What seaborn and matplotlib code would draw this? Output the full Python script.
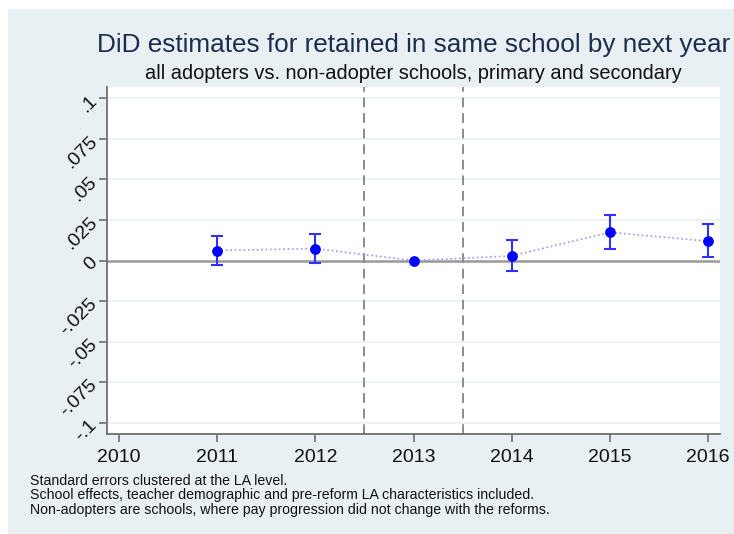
import numpy as np
import pandas as pd
import matplotlib
matplotlib.use("Agg")
import matplotlib.pyplot as plt
import seaborn as sns

# DiD point estimates and 95% confidence bounds by year
years = [2011, 2012, 2013, 2014, 2015, 2016]
estimates = [0.0062, 0.0074, 0.0, 0.0029, 0.0174, 0.0119]
ci_lower = [-0.0025, -0.0012, 0.0, -0.0062, 0.0072, 0.0025]
ci_upper = [0.0150, 0.0164, 0.0, 0.0125, 0.0279, 0.0222]

x_ticks = [2010, 2011, 2012, 2013, 2014, 2015, 2016]
y_ticks = [0.1, 0.075, 0.05, 0.025, 0.0, -0.025, -0.05, -0.075, -0.1]
y_labels = [".1", ".075", ".05", ".025", "0", "-.025", "-.05", "-.075", "-.1"]
reform_lines = [2012.5, 2013.5]

title = "DiD estimates for retained in same school by next year"
subtitle = "all adopters vs. non-adopter schools, primary and secondary"
notes = [
    "Standard errors clustered at the LA level.",
    "School effects, teacher demographic and pre-reform LA characteristics included.",
    "Non-adopters are schools, where pay progression did not change with the reforms.",
]

df = pd.DataFrame({"year": years, "est": estimates, "lo": ci_lower, "hi": ci_upper})

sns.set_style("white")
plt.rcParams["font.family"] = ["Liberation Sans", "DejaVu Sans"]

W, H = 734, 534
fig = plt.figure(figsize=(W / 100, H / 100), dpi=100, facecolor="white")

# graph region background
bg = "#E8F0F3"
fig.patches.append(plt.Rectangle((8 / W, 0), 1 - 8 / W, (H - 9) / H,
                                 transform=fig.transFigure, facecolor=bg,
                                 edgecolor="none", zorder=-5))

left, right, top, bottom = 107, 720, 87, 434
ax = fig.add_axes([left / W, (H - bottom) / H, (right - left) / W, (bottom - top) / H])
ax.set_zorder(2)
ax.set_facecolor("white")

# horizontal grid
for yv in y_ticks:
    if yv != 0:
        ax.axhline(yv, color="#EAF1F4", lw=1.2, zorder=1)
ax.axhline(0, color="#999999", lw=1.8, zorder=2)
for xv in reform_lines:
    ax.axvline(xv, color="#8C8C8C", lw=1.4, ls=(0, (5, 3)), zorder=2)

sns.lineplot(data=df, x="year", y="est", ax=ax, color="#9999FF", lw=1.2,
             linestyle=":", zorder=3, legend=False)
has_ci = df["hi"] > df["lo"]
ax.errorbar(df.loc[has_ci, "year"], df.loc[has_ci, "est"],
            yerr=[df.loc[has_ci, "est"] - df.loc[has_ci, "lo"],
                  df.loc[has_ci, "hi"] - df.loc[has_ci, "est"]],
            fmt="none", ecolor="#3030FF", elinewidth=1.5, capsize=4.5,
            capthick=1.5, zorder=4)
sns.scatterplot(data=df, x="year", y="est", ax=ax, color="#0000FF", s=60,
                edgecolor="#0000FF", linewidth=0, zorder=5, legend=False)

ax.set_xlim(2009.88, 2016.12)
ax.set_ylim(-0.1067, 0.1068)
ax.set_xticks(x_ticks)
ax.set_xticklabels([str(v) for v in x_ticks], fontsize=14)
ax.set_yticks(y_ticks)
ax.set_yticklabels(y_labels, fontsize=14, rotation=45, ha="right", va="center",
                   rotation_mode="anchor")
ax.set_xlabel("")
ax.set_ylabel("")
ax.tick_params(axis="both", direction="out", length=6, width=1.2,
               color="#6E6E6E", labelcolor="#111111", pad=4)
ax.tick_params(axis="x", bottom=True, pad=5)
ax.tick_params(axis="y", left=True, pad=3)
for s in ["top", "right"]:
    ax.spines[s].set_visible(False)
for s in ["left", "bottom"]:
    ax.spines[s].set_color("#6E6E6E")
    ax.spines[s].set_linewidth(1.3)

ax.text(0.5, 1 + 35 / (bottom - top), title, transform=ax.transAxes,
        ha="center", va="baseline", fontsize=18.8, color="#1E2C4E")
ax.text(0.5, 1 + 8 / (bottom - top), subtitle, transform=ax.transAxes,
        ha="center", va="baseline", fontsize=14.4, color="#111111")

for i, line in enumerate(notes):
    fig.text(30 / W, 1 - (485 + 14.5 * i) / H, line, ha="left", va="baseline",
             fontsize=10.2, color="#111111")

fig.savefig("out.png", dpi=100, facecolor="white")
